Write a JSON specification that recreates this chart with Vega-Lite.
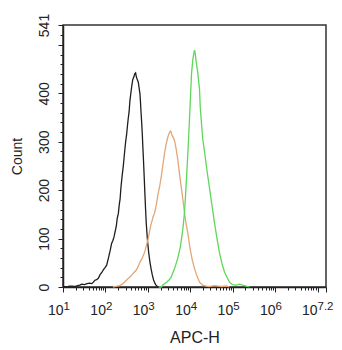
{
  "$schema": "https://vega.github.io/schema/vega-lite/v6.json",
  "width": 263,
  "height": 262,
  "autosize": "none",
  "padding": {"left": 63, "top": 25, "right": 16, "bottom": 63},
  "background": "white",
  "config": {
    "font": "Liberation Sans",
    "view": {"stroke": "#333333", "strokeWidth": 1.5},
    "axis": {"grid": false, "domainColor": "#222222", "domainWidth": 1.5, "tickColor": "#222222", "tickWidth": 1, "labelColor": "#222222", "titleColor": "#222222", "titleFontWeight": "normal", "labelFont": "Liberation Sans", "titleFont": "Liberation Sans"}
  },
  "data": {"values": [
    {"sample": "Control", "apc": 10, "count": 1}, {"sample": "Control", "apc": 12, "count": 0}, {"sample": "Control", "apc": 14, "count": 2}, {"sample": "Control", "apc": 16, "count": 2}, {"sample": "Control", "apc": 19, "count": 1}, {"sample": "Control", "apc": 22, "count": 3}, {"sample": "Control", "apc": 25, "count": 4}, {"sample": "Control", "apc": 27.5, "count": 6}, {"sample": "Control", "apc": 32, "count": 5}, {"sample": "Control", "apc": 37, "count": 7}, {"sample": "Control", "apc": 42, "count": 8}, {"sample": "Control", "apc": 48, "count": 7}, {"sample": "Control", "apc": 52, "count": 10}, {"sample": "Control", "apc": 56.6, "count": 14}, {"sample": "Control", "apc": 62, "count": 15}, {"sample": "Control", "apc": 68, "count": 18}, {"sample": "Control", "apc": 74.3, "count": 25}, {"sample": "Control", "apc": 82, "count": 30}, {"sample": "Control", "apc": 90, "count": 36}, {"sample": "Control", "apc": 98, "count": 40}, {"sample": "Control", "apc": 107, "count": 45}, {"sample": "Control", "apc": 118, "count": 60}, {"sample": "Control", "apc": 130, "count": 76}, {"sample": "Control", "apc": 140, "count": 90}, {"sample": "Control", "apc": 150, "count": 96}, {"sample": "Control", "apc": 160, "count": 104}, {"sample": "Control", "apc": 167, "count": 112}, {"sample": "Control", "apc": 180, "count": 125}, {"sample": "Control", "apc": 190, "count": 142}, {"sample": "Control", "apc": 202, "count": 152}, {"sample": "Control", "apc": 212, "count": 170}, {"sample": "Control", "apc": 222, "count": 182}, {"sample": "Control", "apc": 232, "count": 205}, {"sample": "Control", "apc": 248, "count": 230}, {"sample": "Control", "apc": 264, "count": 250}, {"sample": "Control", "apc": 276, "count": 268}, {"sample": "Control", "apc": 288, "count": 285}, {"sample": "Control", "apc": 300, "count": 300}, {"sample": "Control", "apc": 316, "count": 315}, {"sample": "Control", "apc": 330, "count": 332}, {"sample": "Control", "apc": 347, "count": 350}, {"sample": "Control", "apc": 362, "count": 362}, {"sample": "Control", "apc": 378, "count": 385}, {"sample": "Control", "apc": 395, "count": 398}, {"sample": "Control", "apc": 415, "count": 413}, {"sample": "Control", "apc": 440, "count": 428}, {"sample": "Control", "apc": 470, "count": 434}, {"sample": "Control", "apc": 490, "count": 440}, {"sample": "Control", "apc": 515, "count": 442}, {"sample": "Control", "apc": 530, "count": 436}, {"sample": "Control", "apc": 555, "count": 430}, {"sample": "Control", "apc": 596, "count": 423}, {"sample": "Control", "apc": 620, "count": 412}, {"sample": "Control", "apc": 650, "count": 400}, {"sample": "Control", "apc": 670, "count": 383}, {"sample": "Control", "apc": 687, "count": 365}, {"sample": "Control", "apc": 710, "count": 345}, {"sample": "Control", "apc": 741, "count": 315}, {"sample": "Control", "apc": 760, "count": 292}, {"sample": "Control", "apc": 782, "count": 270}, {"sample": "Control", "apc": 800, "count": 250}, {"sample": "Control", "apc": 826, "count": 222}, {"sample": "Control", "apc": 855, "count": 190}, {"sample": "Control", "apc": 885, "count": 160}, {"sample": "Control", "apc": 920, "count": 130}, {"sample": "Control", "apc": 955, "count": 110}, {"sample": "Control", "apc": 986, "count": 94}, {"sample": "Control", "apc": 1050, "count": 70}, {"sample": "Control", "apc": 1119, "count": 52}, {"sample": "Control", "apc": 1190, "count": 38}, {"sample": "Control", "apc": 1274, "count": 25}, {"sample": "Control", "apc": 1360, "count": 15}, {"sample": "Control", "apc": 1466, "count": 8}, {"sample": "Control", "apc": 1560, "count": 4}, {"sample": "Control", "apc": 1671, "count": 1}, {"sample": "Control", "apc": 1800, "count": 0},
    {"sample": "Sample 1", "apc": 150, "count": 0}, {"sample": "Sample 1", "apc": 165, "count": 1}, {"sample": "Sample 1", "apc": 190, "count": 2}, {"sample": "Sample 1", "apc": 216, "count": 3}, {"sample": "Sample 1", "apc": 250, "count": 6}, {"sample": "Sample 1", "apc": 280, "count": 10}, {"sample": "Sample 1", "apc": 311, "count": 14}, {"sample": "Sample 1", "apc": 350, "count": 18}, {"sample": "Sample 1", "apc": 393, "count": 22}, {"sample": "Sample 1", "apc": 450, "count": 28}, {"sample": "Sample 1", "apc": 535, "count": 35}, {"sample": "Sample 1", "apc": 590, "count": 42}, {"sample": "Sample 1", "apc": 640, "count": 50}, {"sample": "Sample 1", "apc": 700, "count": 56}, {"sample": "Sample 1", "apc": 766, "count": 63}, {"sample": "Sample 1", "apc": 840, "count": 72}, {"sample": "Sample 1", "apc": 920, "count": 85}, {"sample": "Sample 1", "apc": 1002, "count": 97}, {"sample": "Sample 1", "apc": 1050, "count": 106}, {"sample": "Sample 1", "apc": 1099, "count": 115}, {"sample": "Sample 1", "apc": 1150, "count": 124}, {"sample": "Sample 1", "apc": 1205, "count": 131}, {"sample": "Sample 1", "apc": 1270, "count": 138}, {"sample": "Sample 1", "apc": 1330, "count": 145}, {"sample": "Sample 1", "apc": 1443, "count": 153}, {"sample": "Sample 1", "apc": 1520, "count": 162}, {"sample": "Sample 1", "apc": 1600, "count": 172}, {"sample": "Sample 1", "apc": 1726, "count": 190}, {"sample": "Sample 1", "apc": 1892, "count": 207}, {"sample": "Sample 1", "apc": 2075, "count": 228}, {"sample": "Sample 1", "apc": 2250, "count": 250}, {"sample": "Sample 1", "apc": 2483, "count": 277}, {"sample": "Sample 1", "apc": 2700, "count": 295}, {"sample": "Sample 1", "apc": 2966, "count": 310}, {"sample": "Sample 1", "apc": 3200, "count": 318}, {"sample": "Sample 1", "apc": 3381, "count": 322}, {"sample": "Sample 1", "apc": 3500, "count": 321}, {"sample": "Sample 1", "apc": 3626, "count": 316}, {"sample": "Sample 1", "apc": 3900, "count": 310}, {"sample": "Sample 1", "apc": 4266, "count": 302}, {"sample": "Sample 1", "apc": 4650, "count": 285}, {"sample": "Sample 1", "apc": 5105, "count": 262}, {"sample": "Sample 1", "apc": 5598, "count": 232}, {"sample": "Sample 1", "apc": 6000, "count": 212}, {"sample": "Sample 1", "apc": 6600, "count": 185}, {"sample": "Sample 1", "apc": 7345, "count": 152}, {"sample": "Sample 1", "apc": 8000, "count": 130}, {"sample": "Sample 1", "apc": 8775, "count": 112}, {"sample": "Sample 1", "apc": 9400, "count": 92}, {"sample": "Sample 1", "apc": 10046, "count": 76}, {"sample": "Sample 1", "apc": 11200, "count": 55}, {"sample": "Sample 1", "apc": 12620, "count": 38}, {"sample": "Sample 1", "apc": 14500, "count": 22}, {"sample": "Sample 1", "apc": 16550, "count": 10}, {"sample": "Sample 1", "apc": 19500, "count": 4}, {"sample": "Sample 1", "apc": 23820, "count": 2}, {"sample": "Sample 1", "apc": 28000, "count": 1}, {"sample": "Sample 1", "apc": 32000, "count": 2}, {"sample": "Sample 1", "apc": 37330, "count": 3}, {"sample": "Sample 1", "apc": 45000, "count": 2}, {"sample": "Sample 1", "apc": 55000, "count": 1}, {"sample": "Sample 1", "apc": 71600, "count": 2}, {"sample": "Sample 1", "apc": 84200, "count": 0},
    {"sample": "Sample 2", "apc": 1800, "count": 0}, {"sample": "Sample 2", "apc": 2075, "count": 0}, {"sample": "Sample 2", "apc": 2265, "count": 4}, {"sample": "Sample 2", "apc": 2767, "count": 10}, {"sample": "Sample 2", "apc": 3200, "count": 15}, {"sample": "Sample 2", "apc": 3565, "count": 21}, {"sample": "Sample 2", "apc": 4266, "count": 38}, {"sample": "Sample 2", "apc": 5105, "count": 60}, {"sample": "Sample 2", "apc": 5902, "count": 85}, {"sample": "Sample 2", "apc": 6693, "count": 120}, {"sample": "Sample 2", "apc": 7345, "count": 155}, {"sample": "Sample 2", "apc": 7870, "count": 200}, {"sample": "Sample 2", "apc": 8400, "count": 245}, {"sample": "Sample 2", "apc": 9120, "count": 304}, {"sample": "Sample 2", "apc": 9880, "count": 372}, {"sample": "Sample 2", "apc": 10720, "count": 441}, {"sample": "Sample 2", "apc": 11500, "count": 470}, {"sample": "Sample 2", "apc": 12000, "count": 480}, {"sample": "Sample 2", "apc": 12620, "count": 489}, {"sample": "Sample 2", "apc": 13100, "count": 482}, {"sample": "Sample 2", "apc": 13680, "count": 468}, {"sample": "Sample 2", "apc": 15100, "count": 441}, {"sample": "Sample 2", "apc": 16560, "count": 407}, {"sample": "Sample 2", "apc": 17180, "count": 372}, {"sample": "Sample 2", "apc": 18150, "count": 345}, {"sample": "Sample 2", "apc": 19770, "count": 304}, {"sample": "Sample 2", "apc": 21680, "count": 280}, {"sample": "Sample 2", "apc": 24850, "count": 240}, {"sample": "Sample 2", "apc": 28440, "count": 204}, {"sample": "Sample 2", "apc": 32570, "count": 168}, {"sample": "Sample 2", "apc": 37330, "count": 132}, {"sample": "Sample 2", "apc": 42760, "count": 100}, {"sample": "Sample 2", "apc": 48980, "count": 70}, {"sample": "Sample 2", "apc": 56100, "count": 48}, {"sample": "Sample 2", "apc": 64150, "count": 31}, {"sample": "Sample 2", "apc": 73460, "count": 20}, {"sample": "Sample 2", "apc": 84140, "count": 10}, {"sample": "Sample 2", "apc": 99100, "count": 5}, {"sample": "Sample 2", "apc": 121100, "count": 4}, {"sample": "Sample 2", "apc": 144900, "count": 6}, {"sample": "Sample 2", "apc": 170300, "count": 4}, {"sample": "Sample 2", "apc": 208000, "count": 2}, {"sample": "Sample 2", "apc": 248700, "count": 0}
  ]},
  "layer": [
    {
      "mark": {"type": "line", "strokeWidth": 1.3},
      "encoding": {
        "x": {
          "field": "apc", "type": "quantitative",
          "scale": {"type": "log", "domain": [10, 15848932], "nice": false},
          "axis": {
            "orient": "bottom",
            "values": [10, 20, 30, 40, 50, 60, 70, 80, 90, 100, 200, 300, 400, 500, 600, 700, 800, 900, 1000, 2000, 3000, 4000, 5000, 6000, 7000, 8000, 9000, 10000, 20000, 30000, 40000, 50000, 60000, 70000, 80000, 90000, 100000, 200000, 300000, 400000, 500000, 600000, 700000, 800000, 900000, 1000000, 2000000, 3000000, 4000000, 5000000, 6000000, 7000000, 8000000, 9000000, 10000000, 15848931],
            "labelExpr": "(datum.value > 15000000 || datum.value == 10 || datum.value == 100 || datum.value == 1000 || datum.value == 10000 || datum.value == 100000 || datum.value == 1000000) ? '10' : ''",
            "tickSize": {"condition": {"test": "datum.value > 15000000 || datum.value == 10 || datum.value == 100 || datum.value == 1000 || datum.value == 10000 || datum.value == 100000 || datum.value == 1000000 || datum.value == 10000000", "value": 5}, "value": 3},
            "labelOffset": {"condition": {"test": "datum.value > 15000000", "value": -9}, "value": 0},
            "labelAlign": "right",
            "labelBaseline": "top",
            "labelDx": 4.5,
            "labelFontSize": 14,
            "labelPadding": 11,
            "labelFlush": false,
            "labelOverlap": false,
            "title": "APC-H",
            "titleFontSize": 16,
            "titlePadding": 12
          }
        },
        "y": {
          "field": "count", "type": "quantitative",
          "scale": {"domain": [0, 541], "nice": false},
          "axis": {
            "values": [0, 20, 40, 60, 80, 100, 120, 140, 160, 180, 200, 220, 240, 260, 280, 300, 320, 340, 360, 380, 400, 420, 440, 460, 480, 500, 520, 541],
            "format": "d",
            "labelExpr": "(datum.value == 541 || (datum.value % 100 == 0 && datum.value < 500)) ? datum.label : ''",
            "tickSize": {"condition": {"test": "datum.value % 100 == 0 || datum.value == 541", "value": 5}, "value": 3},
            "labelAngle": -90,
            "labelAlign": "center",
            "labelBaseline": "bottom",
            "labelFontSize": 14,
            "labelPadding": 7,
            "labelOverlap": false,
            "labelFlush": false,
            "title": "Count",
            "titleFontSize": 14,
            "titlePadding": 13
          }
        },
        "color": {
          "field": "sample", "type": "nominal",
          "scale": {"domain": ["Control", "Sample 1", "Sample 2"], "range": ["#1e1e1e", "#e3a677", "#5fd75a"]},
          "legend": null
        }
      }
    },
    {
      "mark": {"type": "point", "opacity": 0},
      "encoding": {
        "x": {
          "field": "apc", "type": "quantitative",
          "axis": {
            "orient": "bottom",
            "values": [10, 100, 1000, 10000, 100000, 1000000, 15848931],
            "labelExpr": "datum.value > 15000000 ? '7.2' : '' + round(log(datum.value) / LN10)",
            "ticks": false,
            "domain": false,
            "tickSize": 5,
            "labelOffset": {"condition": {"test": "datum.value > 15000000", "value": -9}, "value": 0},
            "labelAlign": "left",
            "labelBaseline": "top",
            "labelDx": 4.5,
            "labelFontSize": 11.5,
            "labelPadding": 13,
            "labelFlush": false,
            "labelOverlap": false,
            "title": null
          }
        }
      }
    }
  ],
  "resolve": {"axis": {"x": "independent"}}
}
